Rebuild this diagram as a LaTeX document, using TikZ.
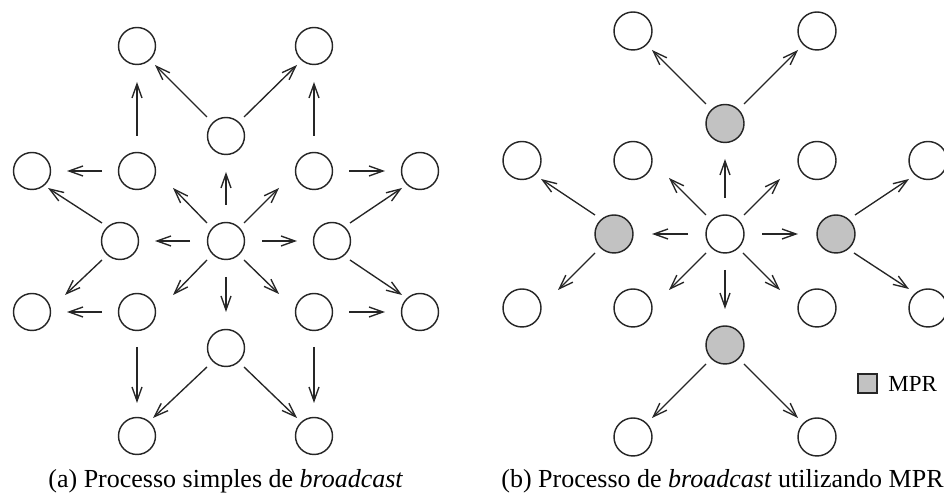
\documentclass[tikz,border=0pt]{standalone}
\usepackage{fontspec}
\setmainfont{Liberation Serif}
\usetikzlibrary{arrows.meta,calc}
\tikzset{
  nd/.style={circle,draw=black!85,line width=0.72pt,minimum size=18.5pt,inner sep=0pt,fill=white},
  ndb/.style={nd,minimum size=19pt},
  mpr/.style={fill=black!24},
  arr/.style={draw=black!85,line width=0.68pt,-{Straight Barb[length=7pt,width=5pt]}},
  caption/.style={anchor=base west,inner sep=0pt,font=\fontsize{13}{15}\selectfont},
}
% arrow from an offset point of one node to an offset point of another
\newcommand\conn[4]{\draw[arr] ($(#1)+(#2)$) -- ($(#3)+(#4)$);}
\begin{document}
\begin{tikzpicture}[x=0.5pt,y=-0.5pt]
\useasboundingbox (0,0) rectangle (944,501);
\clip (0,0) rectangle (944,501);

% ---------- (a) simple flooding ----------
\node[nd] (a-c)   at (226,241) {};
\node[nd] (a-u)   at (226,136) {};
\node[nd] (a-d)   at (226,348) {};
\node[nd] (a-tl)  at (137,46)  {};
\node[nd] (a-tr)  at (314,46)  {};
\node[nd] (a-l2a) at (32,171)  {};
\node[nd] (a-l2b) at (137,171) {};
\node[nd] (a-l2c) at (314,171) {};
\node[nd] (a-l2d) at (420,171) {};
\node[nd] (a-ml)  at (120,241) {};
\node[nd] (a-mr)  at (332,241) {};
\node[nd] (a-l4a) at (32,312)  {};
\node[nd] (a-l4b) at (137,312) {};
\node[nd] (a-l4c) at (314,312) {};
\node[nd] (a-l4d) at (420,312) {};
\node[nd] (a-bl)  at (137,436) {};
\node[nd] (a-br)  at (314,436) {};

\conn{a-c}{0,-36}{a-u}{0,36}
\conn{a-c}{0,36}{a-d}{0,-36}
\conn{a-c}{-36,0}{a-ml}{35,0}
\conn{a-c}{36,0}{a-mr}{-35,0}
\conn{a-c}{-19,-18}{a-l2b}{36,17}
\conn{a-c}{18,-18}{a-l2c}{-35,17}
\conn{a-c}{-19,19}{a-l4b}{36,-17}
\conn{a-c}{18,19}{a-l4c}{-35,-18}
\conn{a-u}{-19,-19}{a-tl}{18,19}
\conn{a-u}{18,-19}{a-tr}{-17,19}
\conn{a-l2b}{0,-35}{a-tl}{0,36}
\conn{a-l2c}{0,-35}{a-tr}{0,36}
\conn{a-l2b}{-35,0}{a-l2a}{35,0}
\conn{a-l2c}{35,0}{a-l2d}{-35,0}
\conn{a-ml}{-18,-18}{a-l2a}{16,17}
\conn{a-mr}{18,-18}{a-l2d}{-18,17}
\conn{a-ml}{-18,19}{a-l4a}{33,-17}
\conn{a-mr}{18,19}{a-l4d}{-18,-17}
\conn{a-l4b}{-35,0}{a-l4a}{35,0}
\conn{a-l4c}{35,0}{a-l4d}{-35,0}
\conn{a-l4b}{0,35}{a-bl}{0,-33}
\conn{a-l4c}{0,35}{a-br}{0,-33}
\conn{a-d}{-19,19}{a-bl}{16,-18}
\conn{a-d}{18,19}{a-br}{-17,-18}

\node[caption] (capA) at (48,488) {(a) Processo simples de \textit{broadcast}};

% ---------- (b) flooding through MPRs ----------
\node[ndb] (b-c)   at (725,234)   {};
\node[ndb,mpr] (b-u)  at (725,123.5) {};
\node[ndb,mpr] (b-d)  at (725,345)   {};
\node[ndb,mpr] (b-ml) at (614,234)   {};
\node[ndb,mpr] (b-mr) at (836,234)   {};
\node[ndb] (b-tl)  at (633,31)    {};
\node[ndb] (b-tr)  at (817,31)    {};
\node[ndb] (b-l2a) at (522,160.5) {};
\node[ndb] (b-l2b) at (633,160.5) {};
\node[ndb] (b-l2c) at (817,160.5) {};
\node[ndb] (b-l2d) at (928,160.5) {};
\node[ndb] (b-l4a) at (522,308)   {};
\node[ndb] (b-l4b) at (633,308)   {};
\node[ndb] (b-l4c) at (817,308)   {};
\node[ndb] (b-l4d) at (928,308)   {};
\node[ndb] (b-bl)  at (633,437)   {};
\node[ndb] (b-br)  at (817,437)   {};

\conn{b-c}{0,-36}{b-u}{0,35.5}
\conn{b-c}{0,36}{b-d}{0,-36}
\conn{b-c}{-37,0}{b-ml}{38,0}
\conn{b-c}{37,0}{b-mr}{-38,0}
\conn{b-c}{-19,-19}{b-l2b}{36,17.5}
\conn{b-c}{19,-19}{b-l2c}{-37,18.5}
\conn{b-c}{-19,19}{b-l4b}{36,-18}
\conn{b-c}{18,19}{b-l4c}{-37,-18}
\conn{b-u}{-19,-19.5}{b-tl}{19,19}
\conn{b-u}{19,-19.5}{b-tr}{-19,19}
\conn{b-ml}{-19,-19}{b-l2a}{19,18.5}
\conn{b-mr}{19,-19}{b-l2d}{-19,18.5}
\conn{b-ml}{-19,19}{b-l4a}{36,-18}
\conn{b-mr}{18,19}{b-l4d}{-19,-19}
\conn{b-d}{-19,19}{b-bl}{19,-19}
\conn{b-d}{19,19}{b-br}{-19,-19}

% legend
\node[draw=black!85,line width=0.72pt,mpr,minimum size=9.5pt,inner sep=0pt] (mprbox) at (867.5,383.5) {};
\node[anchor=base west,inner sep=0pt,font=\fontsize{11.5}{13}\selectfont] (mprtext) at (888,392) {MPR};

\node[caption] (capB) at (501,488) {(b) Processo de \textit{broadcast} utilizando MPR};
\end{tikzpicture}
\end{document}
